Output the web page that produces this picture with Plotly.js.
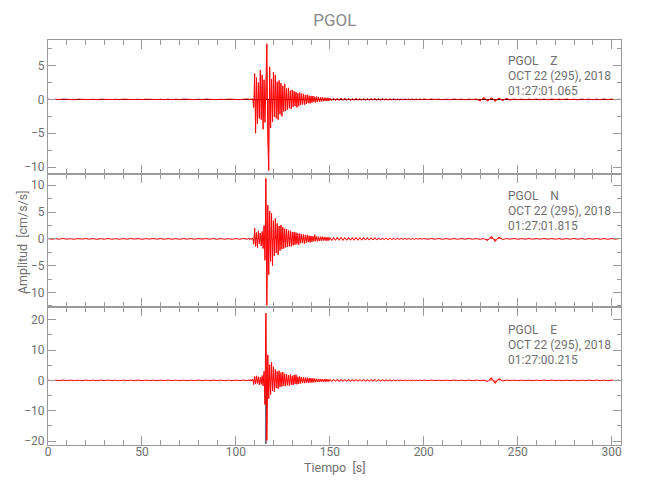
<!DOCTYPE html>
<html>
<head>
<meta charset="utf-8">
<script src="https://cdn.plot.ly/plotly-3.0.1.min.js"></script>
<style>html,body{margin:0;padding:0;background:#fff;}#chart{width:650px;height:500px;}</style>
</head>
<body>
<div id="chart"></div>
<script>
// ---- sampling segments (start time, step in seconds) ----
const segStarts = [0, 107, 151, 202];
const segSteps  = [2, 0.5, 1, 2];

// ---- Z component (cm/s/s) ----
const zPre = [0.03,-0.04,0.02,-0.03,0.04,-0.02,0.03,-0.04,0.03,-0.02,0.04,-0.03,0.02,-0.04,0.03,-0.02,0.04,-0.03,0.02,-0.04,0.03,-0.02,0.04,-0.03,0.02,-0.04,0.03,-0.02,0.04,-0.03,0.02,-0.04,0.03,-0.04,0.02,-0.03,0.04,-0.02,0.03,-0.04,0.02,-0.03,0.04,-0.02,0.03,-0.04,0.02,-0.03,0.04,-0.02,0.03,-0.04,0.03,-0.02];
const zMain = [0.05,-0.08,0.1,-0.06,0.12,-1.2,3.8,-5.0,3.2,-3.6,2.5,-2.8,4.3,-3.0,3.6,-4.4,2.9,-3.4,5.6,8.2,-6.0,-10.5,4.8,-4.2,3.0,-3.3,4.0,-2.6,3.6,-2.8,2.6,-3.0,2.8,-2.2,2.4,-2.5,2.0,-1.8,2.3,-1.7,1.6,-1.5,1.7,-1.3,1.3,-1.4,1.4,-1.1,1.2,-1.0,1.1,-1.2,0.9,-1.0,1.0,-0.8,0.85,-0.75,0.8,-0.8,0.65,-0.7,0.7,-0.55,0.55,-0.6,0.5,-0.5,0.5,-0.4,0.4,-0.45,0.4,-0.35,0.35,-0.35,0.3,-0.3,0.3,-0.28,0.25,-0.26,0.25,-0.22,0.22,-0.24,0.2];
const zCoda = [-0.2,0.18,-0.19,0.17,-0.18,0.2,-0.16,0.17,-0.15,0.16,-0.17,0.14,-0.15,0.16,-0.13,0.14,-0.15,0.13,-0.14,0.12,-0.13,0.12,-0.11,0.13,-0.12,0.11,-0.1,0.12,-0.11,0.1,-0.1,0.09,-0.08,0.09,-0.08,0.07,-0.08,0.06,-0.07,0.07,-0.06,0.06,-0.05,0.06,-0.05,0.05,-0.06,0.05,-0.04,0.05];
const zTail = [-0.04,0.05,-0.03,0.04,-0.05,0.03,-0.04,0.05,-0.03,0.04,-0.05,0.04,-0.03,0.05,-0.25,0.3,-0.28,0.26,-0.3,0.22,-0.2,0.15,-0.1,0.05,-0.04,0.03,-0.05,0.04,-0.03,0.04,-0.05,0.03,-0.04,0.05,-0.03,0.04,-0.03,0.05,-0.04,0.03,-0.05,0.04,-0.03,0.04,-0.05,0.03,-0.04,0.05,-0.03,0.04,-0.04,0.03];

// ---- N component ----
const nPre = [0.05,-0.06,0.04,-0.05,0.07,-0.05,0.04,-0.06,0.05,-0.04,0.06,-0.05,0.05,-0.07,0.04,-0.05,0.06,-0.05,0.04,-0.06,0.05,-0.05,0.07,-0.04,0.05,-0.06,0.05,-0.04,0.06,-0.05,0.05,-0.06,0.05,-0.05,0.04,-0.07,0.05,-0.05,0.06,-0.05,0.05,-0.04,0.06,-0.05,0.05,-0.06,0.05,-0.05,0.04,-0.06,0.05,-0.05,0.06,-0.05];
const nMain = [0.1,-0.15,0.12,-0.1,0.2,-1.0,2.0,-1.4,1.2,-1.6,1.5,-0.9,1.1,-1.3,1.4,-1.8,2.5,-4.0,11.3,-12.4,6.3,-6.7,5.2,-4.2,4.8,-5.0,3.4,-3.2,3.8,-2.6,2.9,-3.0,2.4,-2.2,2.6,-1.9,2.2,-1.8,1.9,-1.6,1.8,-1.5,1.6,-1.4,1.5,-1.4,1.3,-1.2,1.3,-1.1,1.2,-1.0,1.0,-1.1,1.0,-0.8,0.9,-0.8,0.8,-0.9,0.7,-0.7,0.75,-0.6,0.6,-0.65,0.55,-0.55,0.5,-0.45,0.8,-0.45,0.45,-0.45,0.4,-0.4,0.4,-0.35,0.45,-0.3,0.35,-0.3,0.3,-0.35,0.3,-0.3,0.28];
const nCoda = [-0.3,0.28,-0.27,0.3,-0.26,0.28,-0.29,0.25,-0.27,0.26,-0.24,0.27,-0.25,0.24,-0.26,0.23,-0.24,0.25,-0.22,0.24,-0.23,0.22,-0.21,0.23,-0.22,0.2,-0.2,0.18,-0.17,0.16,-0.15,0.14,-0.13,0.12,-0.12,0.11,-0.1,0.1,-0.09,0.09,-0.08,0.08,-0.08,0.07,-0.07,0.07,-0.06,0.07,-0.06,0.06];
const nTail = [-0.06,0.06,-0.05,0.06,-0.06,0.05,-0.06,0.05,-0.06,0.05,-0.05,0.06,-0.05,0.05,-0.06,0.05,-0.3,0.5,-0.48,0.35,-0.1,0.06,-0.05,0.06,-0.06,0.05,-0.05,0.06,-0.06,0.05,-0.05,0.06,-0.05,0.05,-0.05,0.05,-0.06,0.05,-0.05,0.06,-0.05,0.05,-0.06,0.05,-0.05,0.06,-0.05,0.05,-0.06,0.05,-0.05,0.06];

// ---- E component ----
const ePre = [0.08,-0.1,0.07,-0.09,0.1,-0.08,0.09,-0.1,0.07,-0.09,0.1,-0.08,0.08,-0.1,0.09,-0.08,0.1,-0.09,0.07,-0.1,0.09,-0.08,0.08,-0.1,0.1,-0.07,0.09,-0.09,0.08,-0.1,0.09,-0.08,0.1,-0.08,0.07,-0.1,0.09,-0.09,0.08,-0.1,0.1,-0.08,0.08,-0.09,0.1,-0.08,0.09,-0.1,0.08,-0.09,0.09,-0.08,0.1,-0.09];
const eMain = [0.2,-0.25,0.3,-0.2,0.4,-1.4,1.3,-1.2,1.5,-1.0,1.2,-1.5,1.0,-1.3,1.6,-1.8,3.0,-8.0,22.2,-19.8,8.4,-6.0,5.2,-4.7,6.0,-3.5,4.5,-3.8,3.6,-2.5,3.0,-2.8,3.2,-2.2,2.6,-2.0,2.8,-1.8,2.2,-1.9,2.0,-1.6,1.7,-1.8,2.0,-1.4,1.5,-1.5,1.8,-1.2,1.9,-1.3,1.2,-1.1,1.3,-1.0,1.1,-0.9,1.0,-0.9,0.9,-0.8,0.9,-0.8,0.8,-0.7,0.7,-0.7,0.7,-0.6,0.6,-0.6,0.55,-0.55,0.5,-0.5,0.5,-0.45,0.45,-0.45,0.4,-0.4,0.45,-0.4,0.35,-0.4,0.35];
const eCoda = [-0.38,0.36,-0.35,0.37,-0.34,0.36,-0.35,0.33,-0.34,0.35,-0.32,0.34,-0.33,0.31,-0.33,0.32,-0.3,0.32,-0.31,0.3,-0.31,0.29,-0.3,0.31,-0.29,0.28,-0.26,0.25,-0.23,0.22,-0.21,0.2,-0.18,0.17,-0.16,0.15,-0.14,0.13,-0.13,0.12,-0.12,0.11,-0.11,0.1,-0.1,0.1,-0.1,0.09,-0.1,0.09];
const eTail = [-0.09,0.1,-0.09,0.08,-0.1,0.09,-0.08,0.1,-0.09,0.08,-0.1,0.09,-0.09,0.1,-0.08,0.09,-0.4,0.9,-1.0,0.6,-0.2,0.1,-0.09,0.08,-0.1,0.09,-0.08,0.09,-0.1,0.08,-0.09,0.1,-0.08,0.09,-0.09,0.08,-0.1,0.09,-0.08,0.09,-0.1,0.08,-0.09,0.09,-0.08,0.1,-0.09,0.08,-0.09,0.1,-0.08,0.09];
// black clipped spike on E
const eClipT = [116, 116];
const eClipV = [0, -21];

// ---- text ----
const xTicks = [0, 50, 100, 150, 200, 250, 300];
const station = 'PGOL';
const comps = ['Z', 'N', 'E'];
const dateLabel = 'OCT 22 (295), 2018';
const startTimes = ['01:27:01.065', '01:27:01.815', '01:27:00.215'];

function build(segs) {
  const t = [], v = [];
  segs.forEach((vals, s) => {
    vals.forEach((val, i) => { t.push(segStarts[s] + segSteps[s] * i); v.push(val); });
  });
  return {t, v};
}
const Z = build([zPre, zMain, zCoda, zTail]);
const N = build([nPre, nMain, nCoda, nTail]);
const E = build([ePre, eMain, eCoda, eTail]);

const FONT = 'Roboto, Liberation Sans, sans-serif';
const TXT = '#707070';
const AX = '#9a9a9a';
const red = {color: '#ff0000', width: 1};
const FILL = 'rgba(255,0,0,0.7)';

const traces = [
  {x: Z.t, y: Z.v, xaxis: 'x3', yaxis: 'y', mode: 'lines', line: red, fill: 'tozeroy', fillcolor: FILL, hoverinfo: 'skip'},
  {x: N.t, y: N.v, xaxis: 'x2', yaxis: 'y2', mode: 'lines', line: red, fill: 'tozeroy', fillcolor: FILL, hoverinfo: 'skip'},
  {x: eClipT, y: eClipV, xaxis: 'x', yaxis: 'y3', mode: 'lines', line: {color: '#000', width: 1}, hoverinfo: 'skip'},
  {x: E.t, y: E.v, xaxis: 'x', yaxis: 'y3', mode: 'lines', line: red, fill: 'tozeroy', fillcolor: FILL, hoverinfo: 'skip'}
];

const H = 405, TOP = 40;
const py = px => 1 - (px - TOP) / H;

function xax(anchor, labels) {
  return {
    anchor: anchor, domain: [0, 1], range: [0, 305],
    showline: true, linecolor: AX, linewidth: 1, mirror: 'ticks',
    ticks: 'inside', ticklen: 9, tickcolor: AX, tickwidth: 1,
    tickvals: xTicks, showticklabels: labels, showgrid: false, zeroline: false,
    minor: {ticks: 'inside', ticklen: 5, tickcolor: AX, dtick: 10, tick0: 0, showgrid: false},
    tickfont: {family: FONT, size: 12, color: TXT}, ticklabelstandoff: -4
  };
}
function yax(domain, range, dtick, minorStep, zl) {
  return {
    domain: domain, range: range, dtick: dtick, tick0: 0,
    showline: true, linecolor: AX, linewidth: 1, mirror: 'ticks',
    ticks: 'inside', ticklen: 8, tickcolor: AX, tickwidth: 1,
    showgrid: false, zeroline: zl, zerolinecolor: '#000', zerolinewidth: 1,
    minor: {ticks: 'inside', ticklen: 4, tickcolor: AX, dtick: minorStep, tick0: 0, showgrid: false},
    tickfont: {family: FONT, size: 12, color: TXT}, ticklabelstandoff: 0
  };
}

const annots = [];
const annY = [[61, 76, 91], [196, 211, 226], [330, 345, 360]];
const xrefs = ['x3', 'x2', 'x'];
comps.forEach((c, k) => {
  const lines = [station + '\u00a0\u00a0\u00a0\u00a0' + c, dateLabel, startTimes[k]];
  lines.forEach((txt, j) => {
    annots.push({text: txt, xref: xrefs[k], x: 244, xanchor: 'left', yref: 'paper', y: py(annY[k][j]),
      yanchor: 'middle', showarrow: false, font: {family: FONT, size: 12, color: TXT}});
  });
});
annots.push({text: 'Amplitud\u00a0\u00a0[cm/s/s]', xref: 'paper', x: -0.045, xanchor: 'center', yref: 'paper', y: py(242),
  yanchor: 'middle', textangle: -90, showarrow: false, font: {family: FONT, size: 12.5, color: TXT}});
annots.push({text: 'Tiempo\u00a0\u00a0[s]', xref: 'paper', x: 0.5, xanchor: 'center', yref: 'paper', y: py(468),
  yanchor: 'middle', showarrow: false, font: {family: FONT, size: 12.5, color: TXT}});

const layout = {
  width: 650, height: 500,
  margin: {l: 48, r: 29, t: 40, b: 55},
  paper_bgcolor: '#fff', plot_bgcolor: '#fff',
  showlegend: false,
  title: {text: station, x: 0.515, xanchor: 'center', y: 1 - 20 / 500, yanchor: 'middle', yref: 'container',
    font: {family: FONT, size: 17, color: '#8a8a8a'}},
  xaxis: xax('y3', true),
  xaxis2: xax('y2', false),
  xaxis3: xax('y', false),
  yaxis: yax([py(174), 1], [-11, 8.75], 5, 2.5, true),
  yaxis2: yax([py(307), py(174)], [-12.7, 12.1], 5, 2.5, false),
  yaxis3: yax([0, py(307)], [-21.3, 24.2], 10, 5, false),
  annotations: annots
};

Plotly.newPlot('chart', traces, layout, {staticPlot: true, displayModeBar: false});
</script>
</body>
</html>
